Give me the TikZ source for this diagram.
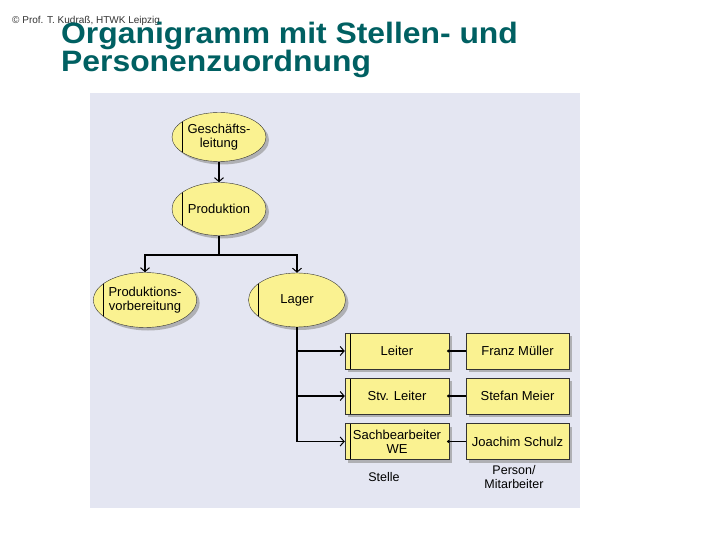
\documentclass[tikz,border=0pt]{standalone}
\usepackage{fontspec}
\setmainfont{Liberation Sans}
\usetikzlibrary{shapes.geometric}
\usetikzlibrary{arrows.meta}
\usetikzlibrary{shadows}

\definecolor{titlegreen}{RGB}{0,96,98}
\definecolor{panelblue}{RGB}{228,230,242}
\definecolor{orgyellow}{RGB}{250,242,145}

\begin{document}
\begin{tikzpicture}[x=1pt, y=-1pt,
  shade/.style={drop shadow={shadow xshift=3pt, shadow yshift=-3pt, fill=black!45, opacity=0.6}},
  unit/.style={ellipse, draw=black!80, fill=orgyellow, inner sep=0pt, shade,
    minimum width=96pt, minimum height=53pt, align=center,
    font=\fontsize{13}{14.5}\selectfont,
    path picture={\draw[black] ([xshift=10pt]path picture bounding box.south west)
      -- ([xshift=10pt]path picture bounding box.north west);}},
  post/.style={rectangle, draw=black!80, fill=orgyellow, inner sep=0pt, shade,
    minimum width=104pt, minimum height=36pt, align=center,
    font=\fontsize{13}{14}\selectfont},
  job/.style={post, path picture={\draw[black] ([xshift=5pt]path picture bounding box.south west)
      -- ([xshift=5pt]path picture bounding box.north west);}},
  link/.style={draw, line width=1.4pt, -{Straight Barb[length=4pt, width=9pt, line width=1pt]}},
  pair/.style={draw, line width=1.4pt, {Circle[length=2.5pt]}-},
  caption/.style={font=\fontsize{12.5}{14}\selectfont, align=center},
]
  \useasboundingbox (0,0) rectangle (720,540);
  \fill[white] (0,0) rectangle (720,540);
  \fill[panelblue] (90,93) rectangle (580,508);

  % header
  \node[anchor=base west, inner sep=0pt, text=black!80, font=\fontsize{10}{11}\selectfont] (copy) at (12,24) {© Prof. T. Kudraß, HTWK Leipzig};
  \node[anchor=base west, inner sep=0pt, text=titlegreen, font=\fontsize{29.5}{30}\selectfont\bfseries] (title1) at (61,44) {\scalebox{1.08}[1]{Organigramm mit Stellen- und}};
  \node[anchor=base west, inner sep=0pt, text=titlegreen, font=\fontsize{29.5}{30}\selectfont\bfseries] (title2) at (61,72) {\scalebox{1.08}[1]{Personenzuordnung}};

  % organisational units
  \node[unit, minimum width=94pt, minimum height=49pt] (gl) at (219,137) {Geschäfts-\\leitung};
  \node[unit, minimum width=94pt] (prod) at (219,209) {Produktion};
  \node[unit, minimum height=55pt] (vorb) at (145,300) {Produktions-\\vorbereitung};
  \node[unit, minimum width=97pt, minimum height=54pt] (lager) at (297,300) {Lager};
  \coordinate (split) at (219,255);

  % positions and persons
  \node[job] (st1) at (397,351) {Leiter};
  \node[job] (st2) at (397,396) {Stv. Leiter};
  \node[job] (st3) at (397,441.5) {Sachbearbeiter\\WE};
  \node[post, minimum width=103pt] (ps1) at (517.5,351) {Franz Müller};
  \node[post, minimum width=103pt] (ps2) at (517.5,396) {Stefan Meier};
  \node[post, minimum width=103pt] (ps3) at (517.5,441.5) {Joachim Schulz};

  \node[caption] (stelle) at (384,477) {Stelle};
  \node[caption] (person) at (514,477) {Person/\\Mitarbeiter};

  % connectors
  \draw[link] (gl.south) -- (prod.north);
  \draw[link] (prod.south) -- (split) -| (vorb.north);
  \draw[link] (split) -| (lager.north);
  \foreach \i in {1,2,3} {
    \draw[link] (lager.south) |- (st\i.west);
    \draw[pair] ([xshift=-2pt]st\i.east) -- (ps\i.west);
  }
\end{tikzpicture}
\end{document}
